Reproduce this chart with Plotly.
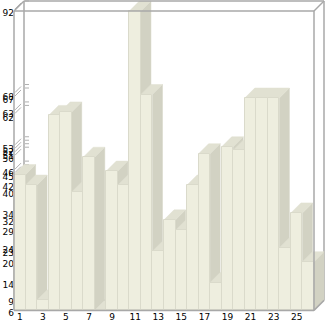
import plotly.graph_objects as go

# ---- data ----
categories = list(range(1, 27))
values = [45, 42, 9, 62, 63, 40, 50, 6, 46, 42, 92, 68, 23, 32, 29, 42,
          51, 14, 53, 52, 67, 67, 67, 24, 34, 20]
x_tick_values = list(range(1, 26, 2))
x_tick_labels = [str(v) for v in x_tick_values]
y_tick_values = sorted(set(values))
y_tick_labels = [str(v) for v in y_tick_values]

# ---- geometry / style ----
W, H = 326, 321
FLOOR = min(values)
TOP = max(values)
PX_X = 300 / 26.0      # px per category
PX_Y = 3.482           # px per value unit
LEFT_PX, FLOOR_PX = 14, 310.4
DEPTH_X_PX, DEPTH_Y_PX = 10, 10

x_range = [0.5 - LEFT_PX / PX_X, 0.5 + (W - LEFT_PX) / PX_X]
y_range = [FLOOR - (H - FLOOR_PX) / PX_Y, FLOOR + FLOOR_PX / PX_Y]
dxu = DEPTH_X_PX / PX_X
dyu = DEPTH_Y_PX / PX_Y

FRONT = "#EEEEDF"
TOPC = "#E1E1D2"
SIDE = "#D2D2C3"
EDGE = "#DADACB"
FRAME = "#A8A8A8"

x0, x1 = 0.5, len(categories) + 0.5

# side and top faces (derived from data)
sx, sy, tx, ty = [], [], [], []
for c, v in zip(categories, values):
    r, l = c + 0.5, c - 0.5
    sx += [r, r + dxu, r + dxu, r, r, None]
    sy += [FLOOR, FLOOR + dyu, v + dyu, v, FLOOR, None]
    tx += [l, r, r + dxu, l + dxu, l, None]
    ty += [v, v, v + dyu, v + dyu, v, None]

# y tick marks on the left wall and back wall
kx, ky = [], []
for v in y_tick_values:
    kx += [x0 + 1 / PX_X, x0 + 7 / PX_X, None, x0 + dxu + 1 / PX_X, x0 + dxu + 5 / PX_X, None]
    ky += [v + 2 / PX_Y, v + 8 / PX_Y, None, v + dyu, v + dyu, None]

fig = go.Figure()
fig.add_trace(go.Scatter(x=kx, y=ky, mode="lines", line=dict(color="#B0B0B0", width=1),
                         hoverinfo="skip", showlegend=False, zorder=0))
fig.add_trace(go.Scatter(x=sx, y=sy, mode="lines", fill="toself", fillcolor=SIDE,
                         line=dict(color=SIDE, width=0.5), hoverinfo="skip",
                         showlegend=False, zorder=1))
fig.add_trace(go.Scatter(x=tx, y=ty, mode="lines", fill="toself", fillcolor=TOPC,
                         line=dict(color=TOPC, width=0.5), hoverinfo="skip",
                         showlegend=False, zorder=2))
fig.add_trace(go.Bar(x=categories, y=[v - FLOOR for v in values], base=FLOOR, width=1,
                     marker=dict(color=FRONT, line=dict(color=EDGE, width=1)),
                     showlegend=False, zorder=3))

def seg(xa, ya, xb, yb, layer="above"):
    fig.add_shape(type="line", xref="x", yref="y", x0=xa, y0=ya, x1=xb, y1=yb,
                  line=dict(color=FRAME, width=1.5), layer=layer)

# back box (behind bars)
seg(x0 + dxu, FLOOR + dyu, x0 + dxu, TOP + dyu, "below")
seg(x0 + dxu, FLOOR + dyu, x1 + dxu, FLOOR + dyu, "below")
seg(x1 + dxu, FLOOR + dyu, x1 + dxu, TOP + dyu, "below")
seg(x0 + dxu, TOP + dyu, x1 + dxu, TOP + dyu)
# front box
seg(x0, FLOOR, x0, TOP)
seg(x0, FLOOR, x1, FLOOR)
seg(x0, TOP, x1, TOP)
seg(x1, FLOOR, x1, TOP)
# corner diagonals
seg(x0, TOP, x0 + dxu, TOP + dyu)
seg(x1, TOP, x1 + dxu, TOP + dyu)
seg(x1, FLOOR, x1 + dxu, FLOOR + dyu)

fig.update_layout(
    width=W, height=H,
    margin=dict(l=0, r=0, t=0, b=0),
    paper_bgcolor="white", plot_bgcolor="white",
    bargap=0, barmode="overlay",
    font=dict(family="DejaVu Sans", size=9, color="black"),
    xaxis=dict(range=x_range, anchor="free", position=(H - FLOOR_PX) / H,
               tickvals=x_tick_values, ticktext=x_tick_labels, ticks="",
               showgrid=False, zeroline=False, showline=False, fixedrange=True),
    yaxis=dict(range=y_range, anchor="free", position=LEFT_PX / W,
               tickvals=y_tick_values, ticktext=y_tick_labels, ticks="",
               showgrid=False, zeroline=False, showline=False, fixedrange=True,
               ticklabelshift=2),
)

fig.write_html("out.html")
